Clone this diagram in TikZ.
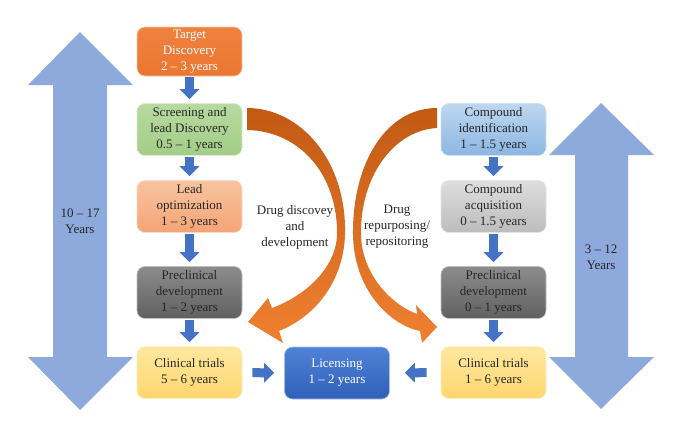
\documentclass[tikz,border=0pt]{standalone}
\usepackage{fontspec}
\setmainfont{Liberation Serif}
\usetikzlibrary{arrows.meta}
\definecolor{bigblue}{HTML}{8EA9DB}
\definecolor{smallblue}{HTML}{4472C4}
\definecolor{txt}{HTML}{262626}
\definecolor{curlytop}{HTML}{C25A14}
\definecolor{curlybot}{HTML}{F08030}
\definecolor{targettop}{HTML}{EE8140}
\definecolor{targetbot}{HTML}{EC7630}
\definecolor{screentop}{HTML}{B8DAA0}
\definecolor{screenbot}{HTML}{A2CD87}
\definecolor{leadtop}{HTML}{F8C4A0}
\definecolor{leadbot}{HTML}{F4A476}
\definecolor{pretop}{HTML}{8C8C8C}
\definecolor{prebot}{HTML}{606060}
\definecolor{trialtop}{HTML}{FFE8A0}
\definecolor{trialbot}{HTML}{FFD66E}
\definecolor{identtop}{HTML}{BED7F0}
\definecolor{identbot}{HTML}{8CB6E2}
\definecolor{acqtop}{HTML}{DEDEDE}
\definecolor{acqbot}{HTML}{BCBCBC}
\definecolor{lictop}{HTML}{5082D7}
\definecolor{licbot}{HTML}{3060B9}
\begin{document}
\begin{tikzpicture}[x=1pt, y=-1pt,
    stage/.style={rounded corners=8pt, draw=white!60!#1, line width=0.6pt,
        minimum width=105pt, minimum height=52pt, inner sep=2pt,
        align=center, text=txt, font=\fontsize{13}{16}\selectfont},
    stepdown/.style={smallblue, line width=9pt,
        -{Triangle[width=19pt, length=10pt]}, shorten <=1pt, shorten >=4pt},
    stepside/.style={smallblue, line width=9pt,
        -{Triangle[width=19pt, length=10pt]}},
    curly/.style={top color=curlytop, bottom color=curlybot, draw=none},
    span/.style={align=center, text=txt, font=\fontsize{13}{16}\selectfont}]
    \useasboundingbox (0,0) rectangle (676,421);

    % big time arrows
    \fill[bigblue] (80,32) -- (133,85) -- (107,85) -- (107,357) -- (133,357)
        -- (80,410) -- (28,357) -- (53,357) -- (53,85) -- (28,85) -- cycle;
    \fill[bigblue] (601,103) -- (654,155) -- (628,155) -- (628,357) -- (654,357)
        -- (601,409) -- (549,357) -- (575,357) -- (575,155) -- (549,155) -- cycle;
    \node[span] (left span) at (80,221) {10 -- 17\\Years};
    \node[span] (right span) at (601,257) {3 -- 12\\Years};

    % drug discovery column
    \node[stage=targetbot, top color=targettop, bottom color=targetbot,
        text=white, minimum height=49pt] (target) at (189.5,51.5)
        {Target\\Discovery\\2 -- 3 years};
    \node[stage=screenbot, top color=screentop, bottom color=screenbot] (screen)
        at (189.5,129.5) {Screening and\\lead Discovery\\0.5 -- 1 years};
    \node[stage=leadbot, top color=leadtop, bottom color=leadbot] (lead)
        at (189.5,206.5) {Lead\\optimization\\1 -- 3 years};
    \node[stage=prebot, top color=pretop, bottom color=prebot] (pre left)
        at (189.5,292.5) {Preclinical\\development\\1 -- 2 years};
    \node[stage=trialbot, top color=trialtop, bottom color=trialbot] (trial left)
        at (189.5,372.5) {Clinical trials\\5 -- 6 years};

    % repurposing column
    \node[stage=identbot, top color=identtop, bottom color=identbot] (ident)
        at (493.5,129.5) {Compound\\identification\\1 -- 1.5 years};
    \node[stage=acqbot, top color=acqtop, bottom color=acqbot] (acq)
        at (493.5,206.5) {Compound\\acquisition\\0 -- 1.5 years};
    \node[stage=prebot, top color=pretop, bottom color=prebot] (pre right)
        at (493.5,292.5) {Preclinical\\development\\0 -- 1 years};
    \node[stage=trialbot, top color=trialtop, bottom color=trialbot] (trial right)
        at (493.5,372.5) {Clinical trials\\1 -- 6 years};

    \node[stage=licbot, top color=lictop, bottom color=licbot, text=white] (licence)
        at (337,373) {Licensing\\1 -- 2 years};

    % small step arrows
    \draw[stepdown] (target) -- (screen);
    \draw[stepdown] (screen) -- (lead);
    \draw[stepdown] (lead) -- (pre left);
    \draw[stepdown] (pre left) -- (trial left);
    \draw[stepdown] (ident) -- (acq);
    \draw[stepdown] (acq) -- (pre right);
    \draw[stepdown] (pre right) -- (trial right);
    \draw[stepside, shorten <=10pt, shorten >=10pt] (trial left) -- (licence);
    \draw[stepside, shorten <=14pt, shorten >=15pt] (trial right) -- (licence);

    % curved arrows
    \path[curly]
        (247,108) .. controls (300,108) and (347,160) .. (345,235)
        .. controls (343,285) and (312,318) .. (279,331)
        -- (283,343) -- (248,322) -- (268,298) -- (272,308)
        .. controls (305,296) and (336,268) .. (337,235)
        .. controls (338,175) and (300,131) .. (247,130) -- cycle;
    \path[curly]
        (437,108) .. controls (385,108) and (352,165) .. (353,235)
        .. controls (354,290) and (390,325) .. (420,331)
        -- (422,343) -- (437,327) -- (416,305) -- (417,314)
        .. controls (392,305) and (362,275) .. (361,235)
        .. controls (360,175) and (395,130) .. (437,128) -- cycle;
    \node[span] (discovery) at (295,227) {Drug discovey\\and\\development};
    \node[span] (repurpose) at (397,227) {Drug\\repurposing/\\repositoring};
\end{tikzpicture}
\end{document}
